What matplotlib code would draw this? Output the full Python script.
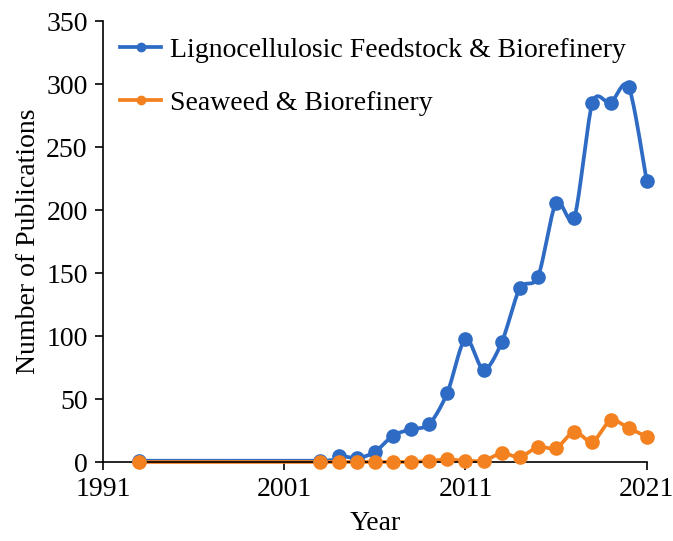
import numpy as np
import matplotlib.pyplot as plt

years = [1993] + list(range(2003, 2022))
ligno = [1, 1, 5, 3, 8, 21, 26, 30, 55, 98, 73, 95, 138, 147, 206, 194, 285, 285, 298, 223]
seaweed = [0, 0, 0, 0, 0, 0, 0, 1, 2, 1, 1, 7, 4, 12, 11, 24, 16, 33, 27, 20]

blue = "#2E6BC4"
orange = "#F4811F"


def smooth(x, y, n=20):
    # Catmull-Rom style curve, like Excel's smoothed line
    x = np.asarray(x, float)
    y = np.asarray(y, float)
    px = np.concatenate([[x[0]], x, [x[-1]]])
    py = np.concatenate([[y[0]], y, [y[-1]]])
    xs, ys = [], []
    t = np.linspace(0, 1, n)
    k = 1 / 7
    for i in range(1, len(px) - 2):
        p0, p1, p2, p3 = px[i - 1], px[i], px[i + 1], px[i + 2]
        q0, q1, q2, q3 = py[i - 1], py[i], py[i + 1], py[i + 2]
        c1x, c1y = p1 + (p2 - p0) * k, q1 + (q2 - q0) * k
        c2x, c2y = p2 - (p3 - p1) * k, q2 - (q3 - q1) * k
        if p2 - p1 > 3:
            c1x, c1y = p1 + (p2 - p1) / 3, q1 + (q2 - q1) / 3
            c2x, c2y = p2 - (p2 - p1) / 3, q2 - (q2 - q1) / 3
        bx = (1 - t) ** 3 * p1 + 3 * (1 - t) ** 2 * t * c1x + 3 * (1 - t) * t ** 2 * c2x + t ** 3 * p2
        by = (1 - t) ** 3 * q1 + 3 * (1 - t) ** 2 * t * c1y + 3 * (1 - t) * t ** 2 * c2y + t ** 3 * q2
        xs.extend(bx)
        ys.extend(by)
    return xs, ys


plt.rcParams['font.family'] = ['Liberation Serif', 'DejaVu Serif']
fs = 20

fig = plt.figure(figsize=(6.73, 5.41), dpi=100)
ax = fig.add_axes([0.153, 0.146, 0.808, 0.815])

for vals, col, lab in [(ligno, blue, "Lignocellulosic Feedstock & Biorefinery"),
                       (seaweed, orange, "Seaweed & Biorefinery")]:
    sx, sy = smooth(years, vals)
    ax.plot(sx, sy, color=col, lw=2.7, zorder=2, clip_on=False)
    ax.plot(years, vals, 'o', color=col, ms=9.5, zorder=3, clip_on=False)
    ax.plot([], [], '-o', color=col, lw=2.7, ms=6, label=lab)

ax.set_xlim(1991, 2021)
ax.set_ylim(0, 350)
ax.set_xticks([1991, 2001, 2011, 2021])
ax.set_yticks(range(0, 351, 50))
ax.spines['top'].set_visible(False)
ax.spines['right'].set_visible(False)
ax.tick_params(direction='out', length=6, width=1.2, labelsize=fs, pad=5)
for s in ['left', 'bottom']:
    ax.spines[s].set_linewidth(1.2)
ax.set_xlabel("Year", fontsize=fs, labelpad=6)
ax.set_ylabel("Number of Publications", fontsize=fs, labelpad=4)
ax.legend(loc='upper left', frameon=False, fontsize=fs, labelspacing=1.0,
          handlelength=1.5, handletextpad=0.3, bbox_to_anchor=(-0.015, 1.02))

fig.savefig("out.png", dpi=100)
